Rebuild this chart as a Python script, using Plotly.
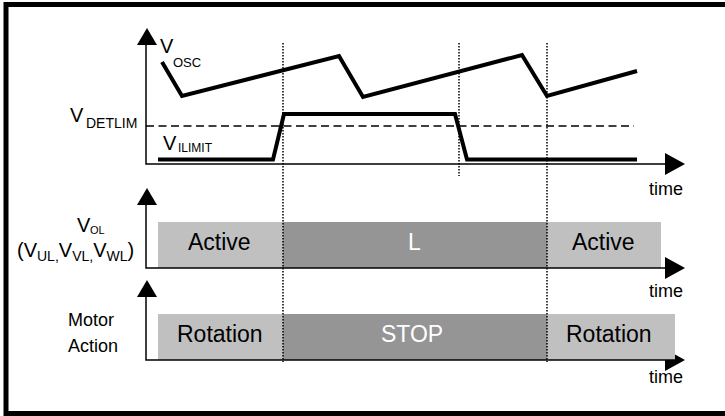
import plotly.graph_objects as go

# ---- data (time / level, in picture units) ----
t_osc = [162, 182, 339, 363, 522, 547, 637]
v_osc = [62, 96, 56, 97, 55, 96, 71]

t_ilim = [158, 273, 284, 455, 467, 637]
v_ilim = [159.5, 159.5, 114, 114, 159.5, 159.5]

t_detlim = [146, 634]
v_detlim = [126, 126]

t_events = [283, 459, 547]          # dotted event markers
event_top = [43, 43, 43]
event_bottom = [362, 176, 362]

# state bars
vol_start = [158, 283, 547]
vol_end = [283, 547, 661]
vol_labels = ["Active", "L", "Active"]
vol_state = ["on", "off", "on"]

motor_start = [158, 283, 547]
motor_end = [283, 547, 675]
motor_labels = ["Rotation", "STOP", "Rotation"]
motor_state = ["on", "off", "on"]

# panel geometry (axes origins)
axis_x0 = 146
axis_x1 = 680
panel_base = [164, 268, 360]
panel_top = [28, 188, 280]
bar_top = [None, 222, 314]

FONT = "Liberation Sans, Arial, sans-serif"
LIGHT = "#c0c0c0"
DARK = "#959595"

fig = go.Figure()


def line(xs, ys, w=1.5, color="black", dash=None):
    fig.add_trace(go.Scatter(x=xs, y=ys, mode="lines", hoverinfo="skip",
                             line=dict(color=color, width=w, dash=dash),
                             showlegend=False))


def poly(xs, ys, color):
    fig.add_trace(go.Scatter(x=xs + [xs[0]], y=ys + [ys[0]], mode="lines",
                             fill="toself", fillcolor=color,
                             line=dict(width=0, color=color),
                             hoverinfo="skip", showlegend=False))


# arrowheads (drawn first so bars may cover them)
for base, top in zip(panel_base, panel_top):
    poly([axis_x0 + 1, axis_x0 - 9, axis_x0 + 11], [top, top + 17, top + 17], "black")
    poly([685, 665, 665], [base, base - 11, base + 11], "black")

# state bars
for s, e, st in zip(vol_start, vol_end, vol_state):
    poly([s, e, e, s], [bar_top[1], bar_top[1], panel_base[1], panel_base[1]],
         LIGHT if st == "on" else DARK)
for s, e, st in zip(motor_start, motor_end, motor_state):
    poly([s, e, e, s], [bar_top[2], bar_top[2], panel_base[2], panel_base[2]],
         LIGHT if st == "on" else DARK)

# axes
for base, top in zip(panel_base, panel_top):
    line([axis_x0, axis_x0, axis_x1], [top + 5, base, base], w=1.5)

# threshold
line(t_detlim, v_detlim, w=1.5, dash="8px,4.5px")

# signals
line(t_osc, v_osc, w=4)
line(t_ilim, v_ilim, w=4)

# dotted event lines
for t, a, b in zip(t_events, event_top, event_bottom):
    line([t, t], [a, b], w=1.5, dash="1.5px,1.5px")

# outer frame (open on the right)
line([725, 6, 6, 725], [4.5, 4.5, 413.5, 413.5], w=5)

ann = []


def txt(x, y, s, size, color="black", xanchor="center"):
    ann.append(dict(x=x, y=y, text=s, showarrow=False, xanchor=xanchor,
                    yanchor="middle", font=dict(family=FONT, size=size, color=color)))


# signal labels
txt(167, 46, "V", 20)
txt(187, 62.5, "OSC", 13)
txt(77, 114.5, "V", 20)
txt(111, 123, "DETLIM", 14)
txt(169.5, 142.5, "V", 20)
txt(195, 147.5, "ILIMIT", 12)
txt(83.5, 225, "V", 20)
txt(97, 229.5, "OL", 11)
txt(75, 251, "(V<sub>UL,</sub>V<sub>VL,</sub>V<sub>WL</sub>)", 20)
txt(91, 320, "Motor", 18)
txt(93, 346, "Action", 18)

for y in [189, 291, 377]:
    txt(666, y, "time", 18)

vol_cx = [219, 414, 603]
for cx, lab, st in zip(vol_cx, vol_labels, vol_state):
    txt(cx, 242, lab, 23, "black" if st == "on" else "white")
motor_cx = [220, 412, 609]
for cx, lab, st in zip(motor_cx, motor_labels, motor_state):
    txt(cx, 334, lab, 23, "black" if st == "on" else "white")

fig.update_layout(
    width=725, height=416, margin=dict(l=0, r=0, t=0, b=0),
    paper_bgcolor="white", plot_bgcolor="white",
    xaxis=dict(range=[0, 725], visible=False, fixedrange=True),
    yaxis=dict(range=[416, 0], visible=False, fixedrange=True),
    annotations=ann, showlegend=False,
)
fig.write_html("out.html", config={"displayModeBar": False, "staticPlot": True},
               post_script="document.body.style.margin='0px';document.body.style.overflow='hidden';")
